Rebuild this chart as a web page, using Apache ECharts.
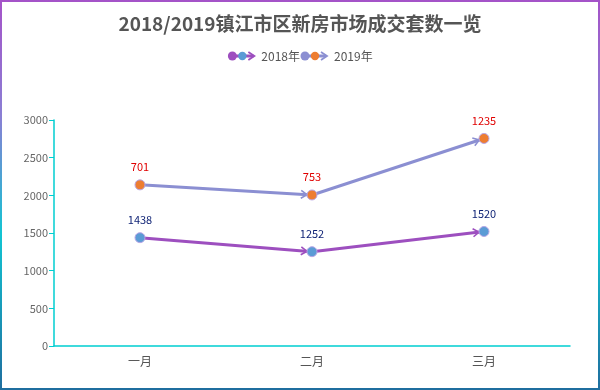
<!DOCTYPE html>
<html>
<head>
<meta charset="utf-8">
<script src="https://cdn.jsdelivr.net/npm/echarts@6/dist/echarts.min.js"></script>
<style>
html,body{margin:0;padding:0;background:#fff;}
#main{width:600px;height:390px;}
</style>
</head>
<body>
<div id="main"></div>
<script>
const categories = ['一月', '二月', '三月'];
const seriesNames = ['2018年', '2019年'];
const values2018 = [1438, 1252, 1520];
const values2019 = [701, 753, 1235];
const yMin = 0, yMax = 3000, yInterval = 500;

const FONT = "'Noto Sans CJK SC', 'Noto Sans', sans-serif";
const lineColors = ['#9d4fbf', '#8b8fd2'];
const dotColors = ['#5b9bd5', '#ed7d31'];
const labelColors = ['#0b1f73', '#e00000'];

function legendIcon(lc, dc) {
  const svg = "<svg xmlns='http://www.w3.org/2000/svg' width='29' height='10' viewBox='0 0 29 10'>" +
    "<line x1='4' y1='5' x2='26' y2='5' stroke='" + lc + "' stroke-width='3'/>" +
    "<circle cx='5' cy='5' r='4.5' fill='" + lc + "'/>" +
    "<circle cx='15' cy='5' r='4.2' fill='" + dc + "'/>" +
    "<polyline points='21,1 27,5 21,9' fill='none' stroke='" + lc + "' stroke-width='1.8'/>" +
    "</svg>";
  return 'image://data:image/svg+xml;charset=utf-8,' + encodeURIComponent(svg);
}

const stacked2019 = values2019.map((v, i) => v + values2018[i]);
function segs(vals) {
  const out = [];
  for (let i = 0; i < vals.length - 1; i++) out.push([i, vals[i], i + 1, vals[i + 1]]);
  return out;
}

function arrowRenderer(color) {
  return function (params, api) {
    const a = api.coord([api.value(0), api.value(1)]);
    const b = api.coord([api.value(2), api.value(3)]);
    const dx = b[0] - a[0], dy = b[1] - a[1];
    const len = Math.sqrt(dx * dx + dy * dy);
    const ux = dx / len, uy = dy / len;
    const nx = -uy, ny = ux;
    const tip = [b[0] - ux * 5, b[1] - uy * 5];
    const back = [tip[0] - ux * 6, tip[1] - uy * 6];
    return {
      type: 'group',
      children: [
        { type: 'line', shape: { x1: a[0], y1: a[1], x2: b[0], y2: b[1] },
          style: { stroke: color, lineWidth: 3 } },
        { type: 'polyline', shape: { points: [[back[0] + nx * 4, back[1] + ny * 4], tip, [back[0] - nx * 4, back[1] - ny * 4]] },
          style: { stroke: color, lineWidth: 1.6, fill: null } }
      ]
    };
  };
}

const chart = echarts.init(document.getElementById('main'), null, { renderer: 'canvas' });
const option = {
  backgroundColor: '#fff',
  textStyle: { fontFamily: FONT },
  title: {
    text: '2018/2019镇江市区新房市场成交套数一览',
    left: 'center', top: 9,
    textStyle: { fontSize: 19, fontWeight: 'bold', color: '#555', fontFamily: FONT }
  },
  legend: {
    top: 45, left: 'center',
    itemGap: 0, itemWidth: 29, itemHeight: 10,
    textStyle: { fontSize: 12, color: '#555', fontFamily: FONT },
    data: [
      { name: seriesNames[0], icon: legendIcon(lineColors[0], dotColors[0]) },
      { name: seriesNames[1], icon: legendIcon(lineColors[1], dotColors[1]) }
    ]
  },
  graphic: [{
    type: 'rect', z: 100, silent: true,
    shape: { x: 1, y: 1, width: 598, height: 388 },
    style: {
      fill: 'none', lineWidth: 2,
      stroke: new echarts.graphic.LinearGradient(0, 0, 0, 1, [
        { offset: 0, color: '#a552c8' },
        { offset: 0.3, color: '#8a7fd4' },
        { offset: 0.6, color: '#12c4d2' },
        { offset: 1, color: '#1f6d9e' }
      ])
    }
  }],
  grid: { left: 54, right: 30, top: 120, bottom: 44 },
  xAxis: {
    type: 'category', data: categories, boundaryGap: true,
    axisLine: { lineStyle: { color: '#00ced1', width: 1.5 } },
    axisTick: { show: false },
    axisLabel: { color: '#555', fontSize: 12, margin: 9, fontFamily: FONT }
  },
  yAxis: {
    type: 'value', min: yMin, max: yMax, interval: yInterval,
    axisLine: { show: true, lineStyle: { color: '#00ced1', width: 1.5 } },
    axisTick: { show: true, length: 5, lineStyle: { color: '#00ced1' } },
    splitLine: { show: false },
    axisLabel: { color: '#666', fontSize: 11, margin: 6, fontFamily: FONT, formatter: v => String(v) }
  },
  series: [
    {
      name: seriesNames[0], type: 'line', stack: 'total', data: values2018,
      symbol: 'circle', symbolSize: 10, z: 5,
      itemStyle: { color: dotColors[0], borderColor: '#b8a6e6', borderWidth: 1 },
      lineStyle: { width: 0, opacity: 0 },
      label: { show: true, position: 'top', distance: 7, color: labelColors[0], fontSize: 11, fontFamily: FONT }
    },
    {
      name: seriesNames[1], type: 'line', stack: 'total', data: values2019,
      symbol: 'circle', symbolSize: 10, z: 5,
      itemStyle: { color: dotColors[1], borderColor: '#b8a6e6', borderWidth: 1 },
      lineStyle: { width: 0, opacity: 0 },
      label: { show: true, position: 'top', distance: 7, color: labelColors[1], fontSize: 11, fontFamily: FONT }
    },
    {
      type: 'custom', coordinateSystem: 'cartesian2d', z: 3, silent: true,
      encode: { x: [0, 2], y: [1, 3] },
      renderItem: arrowRenderer(lineColors[0]),
      data: segs(values2018)
    },
    {
      type: 'custom', coordinateSystem: 'cartesian2d', z: 3, silent: true,
      encode: { x: [0, 2], y: [1, 3] },
      renderItem: arrowRenderer(lineColors[1]),
      data: segs(stacked2019)
    }
  ]
};
chart.setOption(option);
</script>
</body>
</html>
